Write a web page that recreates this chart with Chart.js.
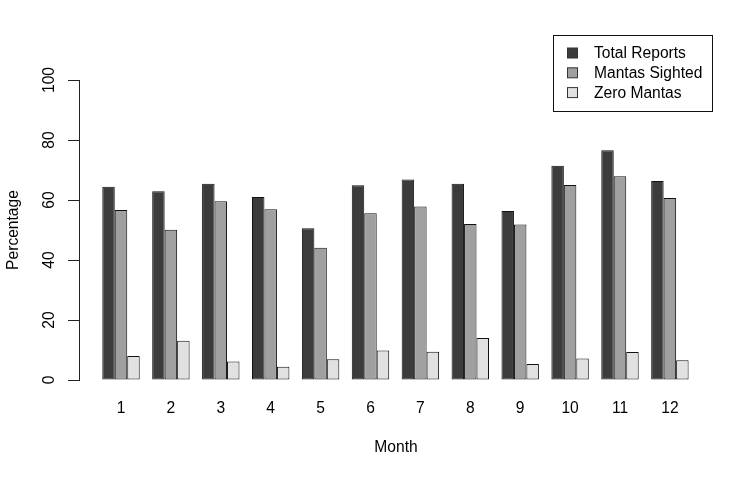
<!DOCTYPE html>
<html>
<head>
<meta charset="utf-8">
<script src="https://cdn.jsdelivr.net/npm/chart.js@4/dist/chart.umd.min.js"></script>
<style>
  html, body { margin: 0; padding: 0; background: #ffffff; }
  #wrap { width: 753px; height: 478px; }
</style>
</head>
<body>
<div id="wrap"><canvas id="c" width="753" height="478"></canvas></div>
<script>
const months = [1, 2, 3, 4, 5, 6, 7, 8, 9, 10, 11, 12];
const totalReports = [64.4, 62.9, 65.4, 61.0, 50.6, 64.9, 66.8, 65.4, 56.3, 71.4, 76.6, 66.3];
const mantasSighted = [56.7, 50.1, 59.6, 56.9, 44.1, 55.6, 57.8, 52.0, 51.8, 65.0, 67.9, 60.7];
const zeroMantas = [8.0, 13.1, 6.2, 4.4, 6.9, 9.8, 9.4, 14.0, 5.3, 7.2, 9.3, 6.6];
const yTicks = [0, 20, 40, 60, 80, 100];
const seriesNames = ['Total Reports', 'Mantas Sighted', 'Zero Mantas'];
const seriesColors = ['#3c3c3c', '#a0a0a0', '#e1e1e1'];

const FONT = 'Liberation Sans, Arial, Helvetica, sans-serif';
const FS = 15.6;

function pts(vals) { return months.map((m, i) => ({ x: m, y: vals[i] })); }

const legendBox = {
  id: 'legendBox',
  afterDraw(chart) {
    const ctx = chart.ctx;
    ctx.save();
    ctx.strokeStyle = '#111';
    ctx.lineWidth = 1;
    ctx.strokeRect(553.5, 35.5, 159, 76);
    ctx.font = FS + 'px ' + FONT;
    ctx.textBaseline = 'middle';
    ctx.textAlign = 'left';
    chart.data.datasets.forEach((ds, i) => {
      const cy = 53 + i * 19.8;
      ctx.fillStyle = ds.backgroundColor;
      ctx.fillRect(567.5, cy - 5, 10, 10);
      ctx.strokeStyle = '#333';
      ctx.strokeRect(567.5, cy - 5, 10, 10);
      ctx.fillStyle = '#000';
      ctx.fillText(ds.label, 594, cy + 1);
    });
    ctx.restore();
  }
};

new Chart(document.getElementById('c'), {
  type: 'bar',
  data: {
    datasets: seriesNames.map((name, k) => ({
      label: name,
      data: pts([totalReports, mantasSighted, zeroMantas][k]),
      backgroundColor: seriesColors[k],
      borderColor: '#111',
      borderWidth: 1,
      borderSkipped: false,
      categoryPercentage: 0.75,
      barPercentage: 1.0
    }))
  },
  options: {
    responsive: false,
    animation: false,
    devicePixelRatio: 1,
    layout: { padding: { left: 0, right: 40, top: 80, bottom: 0 } },
    plugins: {
      legend: { display: false },
      tooltip: { enabled: false }
    },
    scales: {
      x: {
        type: 'linear',
        offset: false,
        min: 0.1583,
        max: 12.864,
        afterBuildTicks: (s) => { s.ticks = months.map(v => ({ value: v })); },
        afterFit: (s) => { s.height = 98; },
        grid: { display: false, drawTicks: false, tickLength: 0 },
        border: { display: false },
        ticks: {
          color: '#000',
          font: { family: FONT, size: FS },
          padding: 19,
          autoSkip: false,
          maxRotation: 0,
          callback: (v) => String(v)
        },
        title: {
          display: true,
          text: 'Month',
          color: '#000',
          font: { family: FONT, size: FS },
          padding: { top: 0, bottom: 20.6 }
        }
      },
      y: {
        min: 0,
        max: 100,
        afterBuildTicks: (s) => { s.ticks = yTicks.map(v => ({ value: v })); },
        afterFit: (s) => { s.width = 79; },
        grid: { display: true, drawOnChartArea: false, drawTicks: true, tickLength: 11, color: '#222', lineWidth: 1 },
        border: { display: true, color: '#222', width: 1 },
        ticks: {
          color: '#000',
          font: { family: FONT, size: FS },
          minRotation: 90,
          maxRotation: 90,
          crossAlign: 'center',
          padding: 5
        },
        title: {
          display: true,
          text: 'Percentage',
          color: '#000',
          font: { family: FONT, size: FS },
          padding: { top: 4.6, bottom: 0 }
        }
      }
    }
  },
  plugins: [legendBox]
});
</script>
</body>
</html>
